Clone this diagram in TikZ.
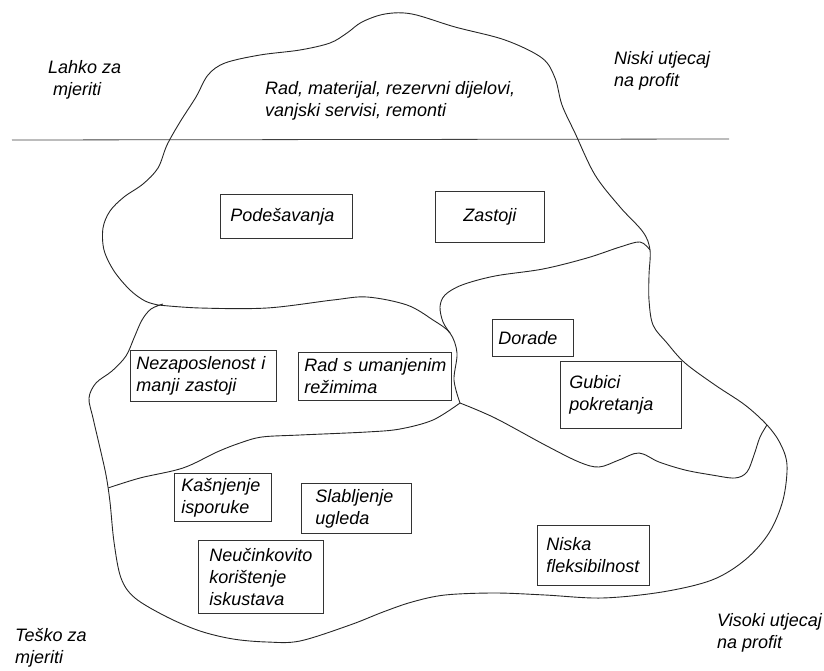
\documentclass[tikz,border=0pt]{standalone}
\usepackage{fontspec}
\setmainfont{Liberation Sans}
\newcommand\dfont{\fontsize{18}{22}\selectfont\itshape}
\tikzset{
  outline/.style={draw=black!85, line width=0.9pt, smooth, tension=0.55},
  box/.style={draw=black!80, line width=0.8pt, anchor=north west, align=left, inner ysep=0pt, font=\dfont},
  lbl/.style={anchor=base west, align=left, inner sep=0pt, font=\dfont}
}
\begin{document}
\begin{tikzpicture}[x=1pt,y=-1pt]
\useasboundingbox (0,0) rectangle (824,671);
% horizontal divider
\coordinate (hl) at (12,140);
\coordinate (hr) at (729,139);
\draw[black!75, line width=0.8pt] (hl) -- (hr);
% outer outline
\draw[outline] plot coordinates {(158,305) (145,301) (130,290) (114,271) (104,250) (103,228) (110,211) (124,197) (143,184) (158,168) (167,145) (180,122) (196,97) (208,75) (225,63) (260,55) (300,50) (330,43) (347,33) (362,22) (385,14) (412,14) (455,27) (505,40) (542,58) (555,78) (562,105) (575,133) (595,175) (620,207) (643,232) (650,250) (649,275) (649,300) (653,325) (667,343) (685,363) (715,385) (745,405) (767,425) (780,443) (787,465) (783,500) (769,533) (745,560) (712,580) (662,592) (602,598) (545,595) (495,593) (445,595) (412,602) (383,612) (350,625) (300,641) (267,642) (233,639) (200,631) (167,617) (135,598) (121,578) (114,542) (110,502) (106,475) (100,448) (93,418) (89,398) (96,383) (112,371) (126,356) (134,338) (142,320) (151,309) (163,304)};
% inner boundaries
\draw[outline] plot coordinates {(158,305) (200,308) (267,308) (333,300) (367,297) (407,305) (433,320) (450,333) (457,353) (454,380) (460,403)};
\draw[outline] plot coordinates {(650,250) (640,242) (620,247) (587,258) (543,269) (495,276) (462,285) (445,295) (440,307) (443,322) (450,333)};
\draw[outline] plot coordinates {(767,425) (760,437) (754,455) (747,472) (735,478) (712,475) (685,470) (659,462) (639,453) (619,460) (599,467) (579,462) (545,445) (495,418) (460,403)};
\draw[outline] plot coordinates {(460,403) (433,420) (400,429) (367,432) (300,435) (262,437) (240,443) (217,452) (183,468) (140,478) (108,488)};
% corner labels (anchor = baseline of the last line)
\node[lbl] (lahko) at (48,96) {Lahko za\\\hspace*{5pt}mjeriti};
\node[lbl] (rad) at (265,117) {Rad, materijal, rezervni dijelovi,\\vanjski servisi, remonti};
\node[lbl] (niski) at (614,87) {Niski utjecaj\\na profit};
\node[lbl] (visoki) at (717,648) {Visoki utjecaj\\na profit};
\node[lbl] (tesko) at (15,663) {Teško za\\mjeriti};
% boxes
\node[box, inner xsep=10pt, text width=112pt, minimum height=44pt] (pod) at (220,194) {Podešavanja};
\node[box, align=center, inner xsep=4pt, text width=101pt, minimum height=51pt] (zas) at (435,191) {Zastoji};
\node[box, inner xsep=6pt, text width=69pt, minimum height=37pt] (dor) at (492,319) {Dorade};
\node[box, inner xsep=9pt, text width=103pt, minimum height=67pt] (gub) at (560,361) {Gubici\\pokretanja};
\node[box, inner xsep=6pt, text width=134pt, minimum height=51pt] (nez) at (130,350) {Nezaposlenost i\\manji zastoji};
\node[box, inner xsep=6pt, text width=141pt, minimum height=48pt] (rsu) at (298,352) {\mbox{Rad s umanjenim}\\režimima};
\node[box, inner xsep=7pt, text width=83pt, minimum height=48pt] (kas) at (174,473) {Kašnjenje\\isporuke};
\node[box, inner xsep=14pt, text width=82pt, minimum height=50pt] (sla) at (301,483) {Slabljenje\\ugleda};
\node[box, inner xsep=11pt, text width=103pt, minimum height=73pt] (neu) at (198,540) {\mbox{Neučinkovito}\\korištenje\\iskustava};
\node[box, inner xsep=9pt, text width=94pt, minimum height=60pt] (nis) at (537,525) {Niska\\\mbox{fleksibilnost}};
\end{tikzpicture}
\end{document}
